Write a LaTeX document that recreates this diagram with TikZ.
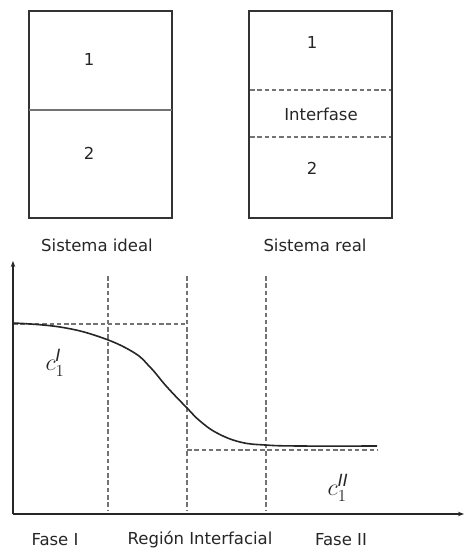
\documentclass[tikz,border=0pt]{standalone}
\usepackage{fix-cm}
\usepackage{fontspec}
\setmainfont{DejaVu Sans}
\usetikzlibrary{arrows.meta}
\begin{document}
\begin{tikzpicture}[x=1pt, y=-1pt, every node/.style={font=\fontsize{16.5}{19}\selectfont, text=black!85, inner sep=0pt},
    frame/.style={line width=1.8pt, draw=black!80},
    grid/.style={dash pattern=on 4.5pt off 2.8pt, draw=black!55, line width=2pt},
    conc/.style={font=\fontsize{24}{28}\selectfont},
    axis/.style={line width=1.4pt, draw=black!85, -{Stealth[length=6pt, width=4.5pt]}}]
    \useasboundingbox (0,0) rectangle (464,552);
    \draw[frame] (29,11) rectangle (172,218);
    \draw[line width=2.2pt, draw=black!55] (29,110) -- (172,110);
    \draw[frame] (249,11) rectangle (392,218);
    \draw[grid] (250,90) -- (391,90);
    \draw[grid] (250,137) -- (391,137);
    \foreach \name/\x/\y/\txt in {ia/89/59/1, ib/89/153/2, ra/312/42/1, rint/321/114/Interfase, rb/312/168/2, ideal/97/245/Sistema ideal, real/315/245/Sistema real, fI/55/540/Fase I, reg/200/540/Región Interfacial, fII/341/540/Fase II} {
        \node (\name) at (\x,\y) {\txt};
    }
    \coordinate (O) at (13,514);
    \coordinate (ytop) at (13,261);
    \coordinate (xend) at (464,514);
    \foreach \i/\x in {1/108,2/187,3/266} {
        \coordinate (t\i) at (\x,276);
        \coordinate (b\i) at (\x,510);
        \draw[grid] (t\i) -- (b\i);
    }
    \coordinate (cI) at (13,324);
    \coordinate (cIend) at (187,324);
    \coordinate (cII) at (187,450);
    \coordinate (cIIend) at (377,450);
    \draw[grid] (cI) -- (cIend);
    \draw[grid] (cII) -- (cIIend);
    \draw[line width=1.6pt, black!85] plot[smooth, tension=0.7] coordinates {(13,323) (60,327) (100,337) (133,352) (150,367) (167,387) (187,408) (200,421) (217,433) (240,442) (265,445) (300,446) (377,446)};
    \draw[axis] (O) -- (ytop);
    \draw[axis] (O) -- (xend);
    \node[conc] (labI) at (55,363) {$c_1^{\mathit{I}}$};
    \node[conc] (labII) at (338,488) {$c_1^{\mathit{II}}$};
\end{tikzpicture}
\end{document}
